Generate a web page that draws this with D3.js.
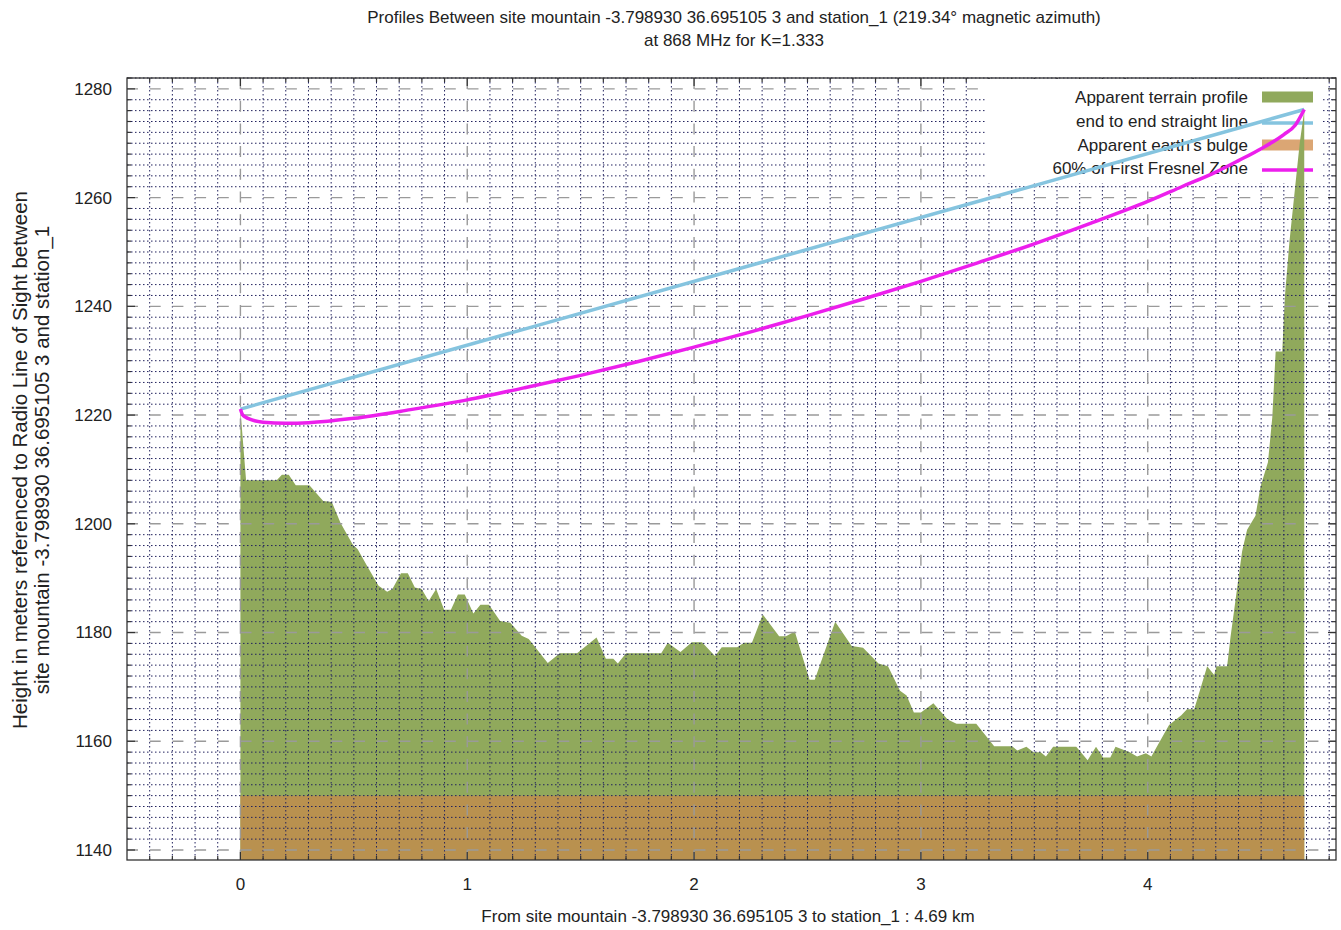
<html>
<head>
    <title>Radio Profile</title>
    <script src="https://d3js.org/d3.v7.min.js"></script>
    <style>
        body { margin: 0; background: #fff; }
        text { font-family: "Liberation Sans", Arial, sans-serif; fill: #222; }
    </style>
</head>
<body>
    <svg id="chart" width="1341" height="930"></svg>

    <script>
    // terrain profile (km, metres)
    const terrainDist = [0.000, 0.025, 0.160, 0.183, 0.213, 0.244, 0.304, 0.365, 0.403, 0.441, 0.495, 0.517,
        0.563, 0.609, 0.647, 0.670, 0.708, 0.738, 0.769, 0.799, 0.830, 0.863, 0.898, 0.928, 0.959, 0.989,
        1.027, 1.058, 1.096, 1.145, 1.190, 1.240, 1.271, 1.355, 1.408, 1.484, 1.570, 1.611, 1.644, 1.664,
        1.700, 1.855, 1.884, 1.940, 1.990, 2.035, 2.092, 2.122, 2.190, 2.220, 2.255, 2.303, 2.375, 2.405,
        2.444, 2.509, 2.532, 2.622, 2.695, 2.745, 2.813, 2.855, 2.908, 2.937, 2.969, 3.000, 3.055, 3.118,
        3.157, 3.244, 3.323, 3.402, 3.425, 3.465, 3.496, 3.528, 3.551, 3.583, 3.685, 3.735, 3.772, 3.803,
        3.835, 3.858, 3.921, 3.953, 3.992, 4.016, 4.094, 4.148, 4.173, 4.205, 4.262, 4.293, 4.303, 4.350,
        4.365, 4.416, 4.438, 4.475, 4.497, 4.530, 4.549, 4.564, 4.593, 4.605, 4.625, 4.650, 4.670, 4.690];
    const terrainHeight = [1221.0, 1208.0, 1208.0, 1209.0, 1209.0, 1207.1, 1207.1, 1204.2, 1204.0, 1200.2, 1196.2, 1195.3,
        1191.9, 1188.6, 1187.5, 1188.0, 1190.9, 1190.9, 1188.3, 1188.0, 1185.8, 1188.0, 1184.2, 1184.2, 1187.0, 1187.0,
        1183.5, 1185.1, 1185.1, 1182.1, 1181.8, 1179.4, 1178.8, 1174.4, 1176.2, 1176.2, 1179.1, 1175.2, 1175.2, 1174.3,
        1176.2, 1176.2, 1178.1, 1176.4, 1178.2, 1178.2, 1175.7, 1177.3, 1177.3, 1178.1, 1178.1, 1183.3, 1179.3, 1179.3,
        1180.2, 1171.3, 1171.3, 1182.0, 1177.5, 1177.2, 1174.3, 1173.8, 1169.3, 1168.4, 1165.3, 1165.3, 1167.0, 1164.0,
        1163.2, 1163.2, 1159.1, 1159.1, 1158.3, 1159.0, 1158.0, 1158.0, 1157.2, 1159.0, 1159.0, 1156.5, 1159.0, 1157.0,
        1157.0, 1159.0, 1158.0, 1157.2, 1157.8, 1157.2, 1163.0, 1164.8, 1165.9, 1165.9, 1173.8, 1172.2, 1173.8, 1173.8,
        1179.2, 1194.9, 1198.9, 1201.5, 1206.8, 1211.3, 1219.5, 1231.7, 1231.7, 1242.0, 1252.0, 1262.0, 1270.0, 1276.0];

    const lineDist = [0, 4.69];
    const lineHeight = [1221.1, 1276.2];

    const bulgeDist = [0, 4.69];
    const bulgeHeight = [1150.0, 1150.0];

    const fresnelDist = [0, 0.01, 0.02, 0.044, 0.1, 0.2, 0.3, 0.5, 0.75, 1, 1.25, 1.5, 1.75, 2, 2.25, 2.5, 2.75,
        3, 3.25, 3.5, 3.75, 4, 4.15, 4.3, 4.4, 4.5, 4.6, 4.65, 4.69];
    const fresnelHeight = [1221.1, 1220.0, 1219.7, 1219.2, 1218.7, 1218.5, 1218.6, 1219.4, 1221.0, 1222.8, 1225.0,
        1227.3, 1229.8, 1232.5, 1235.3, 1238.3, 1241.4, 1244.6, 1248.0, 1251.5, 1255.3, 1259.3, 1262.0, 1264.7,
        1266.8, 1269.0, 1271.6, 1273.3, 1276.2];

    const xTicks = [0, 1, 2, 3, 4];
    const yTicks = [1140, 1160, 1180, 1200, 1220, 1240, 1260, 1280];
    const legendLabels = ["Apparent terrain profile", "end to end straight line", "Apparent earth's bulge", "60% of First Fresnel Zone"];

    const titleLines = ["Profiles Between site mountain -3.798930 36.695105 3 and station_1 (219.34\u00b0 magnetic azimuth)",
        "at 868 MHz for K=1.333"];
    const xLabel = "From site mountain -3.798930 36.695105 3 to station_1 : 4.69 km";
    const yLabelLines = ["Height in meters referenced to Radio Line of Sight between", "site mountain -3.798930 36.695105 3 and station_1"];

    const svg = d3.select('#chart');
    const pLeft = 127, pRight = 1336, pTop = 78, pBottom = 860;

    const x = d3.scaleLinear().domain([-0.5, 4.83]).range([pLeft, pRight]);
    const y = d3.scaleLinear().domain([1138.16, 1282.0]).range([pBottom, pTop]);

    const green = '#90a95c', tan = '#b9914f', tanKey = '#dba674', sky = '#85c4df', magenta = '#ec1fec';

    // legend box, grid is hidden behind it
    const key = { x0: 987, x1: 1322, y0: 79, y1: 183 };
    const defs = svg.append('defs');
    const mask = defs.append('mask').attr('id', 'gridmask');
    mask.append('rect').attr('x', 0).attr('y', 0).attr('width', 1341).attr('height', 930).attr('fill', 'white');
    mask.append('rect').attr('x', key.x0).attr('y', key.y0).attr('width', key.x1 - key.x0).attr('height', key.y1 - key.y0).attr('fill', 'black');
    defs.append('clipPath').attr('id', 'keyclip')
        .append('rect').attr('x', key.x0).attr('y', key.y0).attr('width', key.x1 - key.x0).attr('height', key.y1 - key.y0);

    // fills
    const terrain = terrainDist.map((d, i) => [d, terrainHeight[i]]);
    const terrainArea = d3.area().x(d => x(d[0])).y0(y(1138.16)).y1(d => y(d[1]));
    svg.append('path')
        .datum(terrain)
        .attr('fill', green)
        .attr('d', terrainArea);

    const bulge = bulgeDist.map((d, i) => [d, bulgeHeight[i]]);
    svg.append('path')
        .datum(bulge)
        .attr('fill', tan)
        .attr('d', d3.area().x(d => x(d[0])).y0(y(1138.16)).y1(d => y(d[1])));

    // grid
    const grid = svg.append('g').attr('mask', 'url(#gridmask)');
    const minorX = d3.range(-4, 49).map(i => i / 10).filter(v => Math.abs(v - Math.round(v)) > 1e-6);
    const minorY = d3.range(1140, 1283, 2).filter(v => v % 20 !== 0);

    grid.selectAll('.mx').data(minorX).enter().append('line')
        .attr('x1', d => x(d)).attr('x2', d => x(d)).attr('y1', pTop).attr('y2', pBottom)
        .attr('stroke', '#22225e').attr('stroke-width', 1).attr('stroke-dasharray', '1.5,2.5');
    grid.selectAll('.my').data(minorY).enter().append('line')
        .attr('x1', pLeft).attr('x2', pRight).attr('y1', d => y(d)).attr('y2', d => y(d))
        .attr('stroke', '#22225e').attr('stroke-width', 1).attr('stroke-dasharray', '1.5,2.5');
    grid.selectAll('.gx').data(xTicks).enter().append('line')
        .attr('x1', d => x(d)).attr('x2', d => x(d)).attr('y1', pTop).attr('y2', pBottom)
        .attr('stroke', '#9a9a9a').attr('stroke-width', 1.4).attr('stroke-dasharray', '11,11.7');
    grid.selectAll('.gy').data(yTicks).enter().append('line')
        .attr('x1', pLeft).attr('x2', pRight).attr('y1', d => y(d)).attr('y2', d => y(d))
        .attr('stroke', '#9a9a9a').attr('stroke-width', 1.4).attr('stroke-dasharray', '11,11.7');

    // border and ticks
    svg.append('rect').attr('x', pLeft).attr('y', pTop).attr('width', pRight - pLeft).attr('height', pBottom - pTop)
        .attr('fill', 'none').attr('stroke', '#333').attr('stroke-width', 1.3);

    const ticks = svg.append('g').attr('stroke', '#333').attr('stroke-width', 1.2);
    yTicks.forEach(v => {
        ticks.append('line').attr('x1', pLeft).attr('x2', pLeft + 8).attr('y1', y(v)).attr('y2', y(v));
        ticks.append('line').attr('x1', pRight).attr('x2', pRight - 8).attr('y1', y(v)).attr('y2', y(v));
    });
    minorY.forEach(v => {
        ticks.append('line').attr('x1', pLeft).attr('x2', pLeft + 4).attr('y1', y(v)).attr('y2', y(v));
        ticks.append('line').attr('x1', pRight).attr('x2', pRight - 4).attr('y1', y(v)).attr('y2', y(v));
    });
    xTicks.forEach(v => {
        ticks.append('line').attr('x1', x(v)).attr('x2', x(v)).attr('y1', pBottom).attr('y2', pBottom - 8);
        ticks.append('line').attr('x1', x(v)).attr('x2', x(v)).attr('y1', pTop).attr('y2', pTop + 8);
    });
    minorX.forEach(v => {
        ticks.append('line').attr('x1', x(v)).attr('x2', x(v)).attr('y1', pBottom).attr('y2', pBottom - 4);
        ticks.append('line').attr('x1', x(v)).attr('x2', x(v)).attr('y1', pTop).attr('y2', pTop + 4);
    });

    // tick labels
    svg.selectAll('.ytl').data(yTicks).enter().append('text')
        .attr('x', pLeft - 15).attr('y', d => y(d)).attr('dy', '0.35em')
        .attr('text-anchor', 'end').attr('font-size', 17).text(d => d);
    svg.selectAll('.xtl').data(xTicks).enter().append('text')
        .attr('x', d => x(d)).attr('y', 890)
        .attr('text-anchor', 'middle').attr('font-size', 17).text(d => d);

    // legend
    svg.append('rect').attr('x', key.x0).attr('y', key.y0).attr('width', key.x1 - key.x0).attr('height', key.y1 - key.y0).attr('fill', '#fff');
    const rowY = [97, 121, 145, 168];
    svg.selectAll('.lt').data(legendLabels).enter().append('text')
        .attr('x', 1248).attr('y', (d, i) => rowY[i]).attr('dy', '0.35em')
        .attr('text-anchor', 'end').attr('font-size', 17).text(d => d);
    svg.append('rect').attr('x', 1262).attr('y', rowY[0] - 5.5).attr('width', 51).attr('height', 11).attr('fill', green);
    svg.append('line').attr('x1', 1262).attr('x2', 1313).attr('y1', rowY[1] + 2).attr('y2', rowY[1] + 2).attr('stroke', sky).attr('stroke-width', 3.5);
    svg.append('rect').attr('x', 1262).attr('y', rowY[2] - 5.5).attr('width', 51).attr('height', 11).attr('fill', tanKey);
    svg.append('line').attr('x1', 1262).attr('x2', 1313).attr('y1', rowY[3] + 2).attr('y2', rowY[3] + 2).attr('stroke', magenta).attr('stroke-width', 3.5);

    // terrain spike shows over the legend box
    svg.append('path')
        .datum(terrain)
        .attr('clip-path', 'url(#keyclip)')
        .attr('fill', green)
        .attr('d', terrainArea);

    // lines
    const straight = lineDist.map((d, i) => [d, lineHeight[i]]);
    svg.append('path').datum(straight)
        .attr('fill', 'none').attr('stroke', sky).attr('stroke-width', 3.5)
        .attr('d', d3.line().x(d => x(d[0])).y(d => y(d[1])));

    const fresnel = fresnelDist.map((d, i) => [d, fresnelHeight[i]]);
    svg.append('path').datum(fresnel)
        .attr('fill', 'none').attr('stroke', magenta).attr('stroke-width', 3.5)
        .attr('d', d3.line().curve(d3.curveMonotoneX).x(d => x(d[0])).y(d => y(d[1])));

    // titles
    svg.selectAll('.tt').data(titleLines).enter().append('text')
        .attr('x', 734).attr('y', (d, i) => 17 + i * 23).attr('dy', '0.35em')
        .attr('text-anchor', 'middle').attr('font-size', 17).text(d => d);
    svg.append('text').attr('x', 728).attr('y', 916).attr('dy', '0.35em')
        .attr('text-anchor', 'middle').attr('font-size', 17).text(xLabel);
    svg.selectAll('.yl').data(yLabelLines).enter().append('text')
        .attr('transform', (d, i) => `translate(${20 + i * 22}, 460) rotate(-90)`)
        .attr('dy', '0.35em')
        .attr('text-anchor', 'middle').attr('font-size', 20.5).text(d => d);
    </script>
</body>
</html>
